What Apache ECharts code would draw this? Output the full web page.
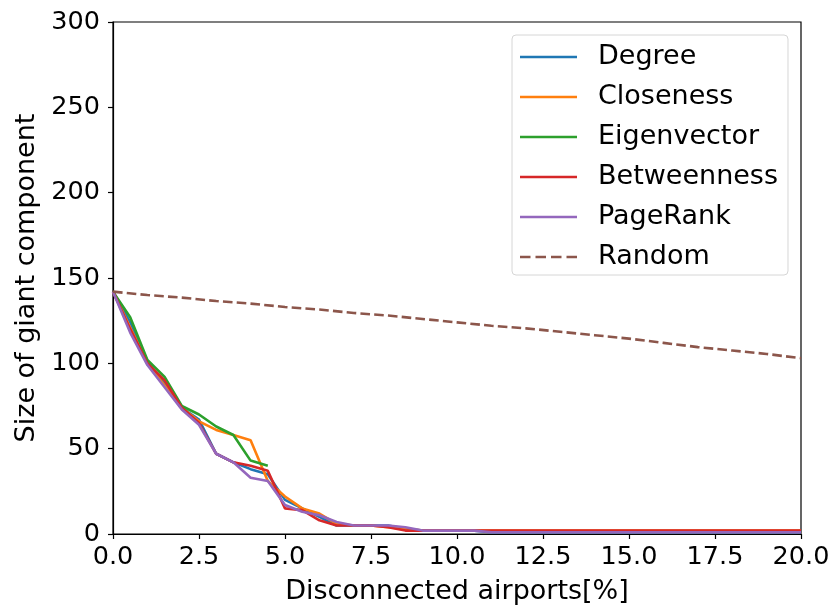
<!DOCTYPE html>
<html>
<head>
<meta charset="utf-8">
<script src="https://cdn.jsdelivr.net/npm/echarts@6/dist/echarts.min.js"></script>
<style>
  html, body { margin: 0; padding: 0; background: #fff; }
  #chart { width: 831px; height: 605px; }
</style>
</head>
<body>
<div id="chart"></div>
<script>
// Share of airports removed (%), sampled every half percent, plus the end point
const removedPct = [0, 0.5, 1, 1.5, 2, 2.5, 3, 3.5, 4, 4.5, 5, 5.5, 6, 6.5, 7, 7.5, 8, 8.5, 9, 9.5, 10, 10.5, 11, 20];

// Size of the giant component under each targeted-attack ordering
const degree      = [142, 124, 101, 88, 74, 67, 47, 42, 38, 35, 20, 15, 10, 5, 5, 5, 5, 3, 2, 2, 2, 2, 1, 1];
const closeness   = [142, 121, 100, 87, 74, 66, 61, 58, 55, 31, 22, 15, 12, 6, 5, 5, 4, 3, 2, 2, 2, 2, 2, 2];
const eigenvector = [142, 127, 102, 92, 75, 70, 63, 58, 43, 40];
const betweenness = [142, 120, 100, 90, 74, 65, 47, 42, 40, 37, 15, 14, 8, 5, 5, 5, 4, 2, 2, 2, 2, 2, 2, 2];
const pagerank    = [142, 118, 99, 86, 73, 64, 47, 42, 33, 31, 17, 13, 11, 7, 5, 5, 5, 4, 2, 2, 2, 2, 1, 1];

// Random removal, sampled at whole percents
const randomPct = [0, 1, 2, 3, 4, 5, 6, 7, 8, 9, 10, 11, 12, 13, 14, 15, 16, 17, 18, 19, 20];
const random    = [142, 140, 138.5, 136.5, 135, 133, 131.5, 129.5, 128, 126, 124, 122, 120.5, 118.5, 116.5, 114.5, 112, 109.5, 107.5, 105.5, 103];

const xTicks = { min: 0, max: 20, step: 2.5 };
const yTicks = { min: 0, max: 300, step: 50 };

const pair = (xs, ys) => ys.map((y, i) => [xs[i], y]);

const FONT = 'DejaVu Sans';
const TICK_SIZE = 25.5;
const LABEL_SIZE = 27;
const LINE_W = 2.6;
const COLORS = ['#1f77b4', '#ff7f0e', '#2ca02c', '#d62728', '#9467bd', '#8c564b'];

// Legend glyphs: a solid stroke and a four-dash stroke
const SOLID_ICON = 'path://M0,0h57v2.6h-57z';
const DASH_ICON = 'path://M0,0h10.5v2.6h-10.5zM15.5,0h10.5v2.6h-10.5zM31,0h10.5v2.6h-10.5zM46.5,0h10.5v2.6h-10.5z';

function lineSeries(name, xs, ys, color, dashed) {
  return {
    name: name,
    type: 'line',
    data: pair(xs, ys),
    symbol: 'none',
    showSymbol: false,
    animation: false,
    lineStyle: { color: color, width: LINE_W, type: dashed ? [9.6, 4.2] : 'solid' },
    itemStyle: { color: color }
  };
}

const chart = echarts.init(document.getElementById('chart'), null, { renderer: 'canvas' });

const axisCommon = {
  axisLine: { show: true, lineStyle: { color: '#000', width: 1.2 } },
  axisTick: { show: true, inside: false, length: 5, lineStyle: { color: '#000', width: 1.2 } },
  splitLine: { show: false },
  axisLabel: { color: '#000', fontFamily: FONT, fontSize: TICK_SIZE },
  nameTextStyle: { color: '#000', fontFamily: FONT, fontSize: LABEL_SIZE }
};

const legendNames = ['Degree', 'Closeness', 'Eigenvector', 'Betweenness', 'PageRank', 'Random'];

chart.setOption({
  backgroundColor: '#fff',
  animation: false,
  grid: {
    left: 113, right: 30, top: 22, bottom: 71,
    containLabel: false,
    outerBoundsMode: 'none',
    show: true, borderColor: '#000', borderWidth: 1.2, backgroundColor: 'transparent'
  },
  legend: {
    orient: 'vertical',
    left: 512, top: 35,
    padding: [7, 10, 3, 8],
    itemWidth: 57,
    itemHeight: 30,
    itemGap: 10,
    symbolKeepAspect: true,
    backgroundColor: '#fff',
    borderColor: '#d6d6d6',
    borderWidth: 1,
    borderRadius: 4,
    textStyle: { color: '#000', fontFamily: FONT, fontSize: LABEL_SIZE, lineHeight: 30, padding: [0, 0, 0, 16] },
    data: legendNames.map(n => ({ name: n, icon: n === 'Random' ? DASH_ICON : SOLID_ICON }))
  },
  xAxis: Object.assign({}, axisCommon, {
    type: 'value',
    min: xTicks.min, max: xTicks.max, interval: xTicks.step,
    name: 'Disconnected airports[%]',
    nameLocation: 'middle',
    nameGap: 44,
    axisLabel: Object.assign({}, axisCommon.axisLabel, {
      margin: 10,
      formatter: v => v.toFixed(1)
    })
  }),
  yAxis: Object.assign({}, axisCommon, {
    type: 'value',
    min: yTicks.min, max: yTicks.max, interval: yTicks.step,
    name: 'Size of giant component',
    nameLocation: 'middle',
    nameGap: 72,
    axisLabel: Object.assign({}, axisCommon.axisLabel, { margin: 13 })
  }),
  series: [
    lineSeries('Degree', removedPct, degree, COLORS[0]),
    lineSeries('Closeness', removedPct, closeness, COLORS[1]),
    lineSeries('Eigenvector', removedPct, eigenvector, COLORS[2]),
    lineSeries('Betweenness', removedPct, betweenness, COLORS[3]),
    lineSeries('PageRank', removedPct, pagerank, COLORS[4]),
    lineSeries('Random', randomPct, random, COLORS[5], true)
  ]
});
</script>
</body>
</html>
